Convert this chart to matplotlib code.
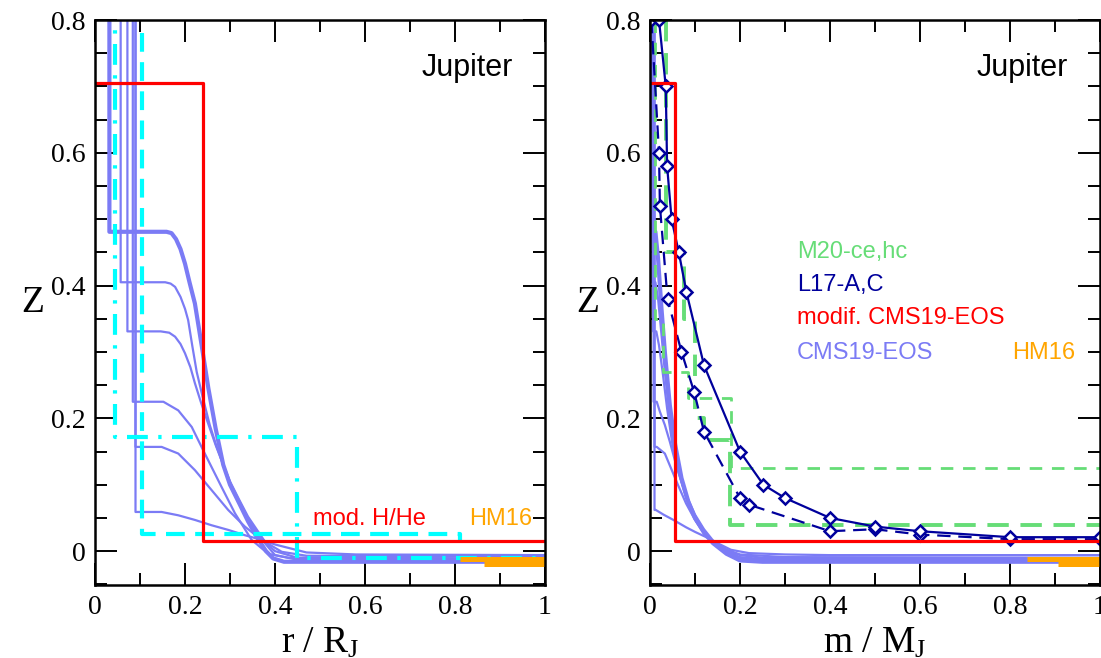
import numpy as np
import matplotlib.pyplot as plt
from matplotlib.ticker import MultipleLocator, FuncFormatter

plt.rcParams['font.family'] = 'Liberation Serif'
plt.rcParams['mathtext.fontset'] = 'custom'
plt.rcParams['mathtext.rm'] = 'Liberation Serif'
plt.rcParams['mathtext.it'] = 'Liberation Serif:italic'

# --- CMS19-EOS profiles, Z vs r/R_J
cms_r1 = [0.032, 0.032, 0.159, 0.17, 0.18, 0.19, 0.2, 0.21, 0.222, 0.237, 0.252, 0.268, 0.285,
          0.3, 0.322, 0.34, 0.359, 0.38, 0.396, 0.42, 1.0]
cms_z1 = [0.9, 0.481, 0.481, 0.479, 0.47, 0.455, 0.433, 0.405, 0.373, 0.31, 0.245, 0.185, 0.13,
          0.1, 0.07, 0.045, 0.022, 0.0, -0.011, -0.016, -0.016]
cms_r2 = [0.057, 0.057, 0.156, 0.168, 0.178, 0.19, 0.2, 0.207, 0.216, 0.226, 0.24, 0.255, 0.27,
          0.285, 0.3, 0.32, 0.34, 0.36, 0.38, 0.4, 0.45, 1.0]
cms_z2 = [0.9, 0.405, 0.405, 0.403, 0.398, 0.383, 0.365, 0.348, 0.31, 0.27, 0.23, 0.19, 0.158,
          0.13, 0.103, 0.075, 0.05, 0.028, 0.01, -0.006, -0.013, -0.014]
cms_r3 = [0.072, 0.072, 0.146, 0.165, 0.178, 0.19, 0.2, 0.212, 0.222, 0.235, 0.25, 0.268, 0.285,
          0.3, 0.32, 0.34, 0.36, 0.38, 0.4, 0.45, 1.0]
cms_z3 = [0.9, 0.331, 0.331, 0.329, 0.323, 0.312, 0.298, 0.277, 0.253, 0.225, 0.195, 0.16, 0.13,
          0.105, 0.078, 0.052, 0.032, 0.012, 0.0, -0.01, -0.012]
cms_r4 = [0.084, 0.084, 0.152, 0.185, 0.215, 0.244, 0.281, 0.311, 0.348, 0.385, 0.43, 1.0]
cms_z4 = [0.9, 0.225, 0.225, 0.212, 0.187, 0.147, 0.097, 0.057, 0.017, -0.004, -0.01, -0.011]
cms_r5 = [0.09, 0.09, 0.148, 0.185, 0.222, 0.259, 0.296, 0.333, 0.37, 0.415, 0.47, 1.0]
cms_z5 = [0.9, 0.157, 0.157, 0.147, 0.122, 0.092, 0.062, 0.037, 0.017, -0.001, -0.007, -0.008]
cms_r6 = [0.09, 0.09, 0.148, 0.185, 0.222, 0.259, 0.296, 0.333, 0.37, 0.40, 0.47, 0.58, 1.0]
cms_z6 = [0.9, 0.059, 0.059, 0.054, 0.047, 0.039, 0.032, 0.024, 0.017, 0.01, -0.002, -0.005, -0.006]

# --- CMS19-EOS profiles, Z vs m/M_J
cms_m1 = [0.003, 0.003, 0.012, 0.018, 0.025, 0.033, 0.044, 0.056, 0.07, 0.085, 0.1, 0.12, 0.14, 0.17, 0.2, 0.25, 1.0]
cms_zm1 = [0.9, 0.481, 0.481, 0.44, 0.37, 0.30, 0.22, 0.16, 0.11, 0.075, 0.05, 0.028, 0.012, -0.004, -0.014, -0.016, -0.016]
cms_m2 = [0.005, 0.005, 0.012, 0.018, 0.025, 0.033, 0.044, 0.056, 0.07, 0.085, 0.1, 0.12, 0.14, 0.17, 0.2, 0.25, 1.0]
cms_zm2 = [0.9, 0.405, 0.405, 0.38, 0.33, 0.27, 0.2, 0.15, 0.105, 0.072, 0.048, 0.027, 0.012, -0.003, -0.011, -0.014, -0.014]
cms_m3 = [0.007, 0.007, 0.014, 0.02, 0.028, 0.038, 0.05, 0.065, 0.08, 0.1, 0.12, 0.14, 0.17, 0.2, 0.25, 1.0]
cms_zm3 = [0.9, 0.331, 0.331, 0.31, 0.27, 0.215, 0.16, 0.115, 0.08, 0.05, 0.03, 0.014, 0.0, -0.009, -0.012, -0.012]
cms_m4 = [0.008, 0.008, 0.015, 0.022, 0.033, 0.044, 0.06, 0.08, 0.1, 0.12, 0.14, 0.17, 0.2, 0.25, 1.0]
cms_zm4 = [0.9, 0.225, 0.225, 0.21, 0.19, 0.165, 0.125, 0.085, 0.055, 0.033, 0.016, 0.002, -0.006, -0.01, -0.011]
cms_m5 = [0.01, 0.01, 0.015, 0.033, 0.062, 0.08, 0.1, 0.12, 0.144, 0.17, 0.2, 0.3, 1.0]
cms_zm5 = [0.9, 0.157, 0.157, 0.147, 0.1, 0.072, 0.047, 0.027, 0.012, 0.002, -0.005, -0.009, -0.01]
cms_m6 = [0.01, 0.01, 0.013, 0.03, 0.052, 0.08, 0.1, 0.122, 0.15, 0.18, 0.22, 0.3, 0.4, 1.0]
cms_zm6 = [0.9, 0.062, 0.062, 0.055, 0.047, 0.036, 0.029, 0.022, 0.012, 0.002, -0.003, -0.005, -0.006, -0.006]

# --- modified H/He EOS (step profile)
mod_r = [0.0, 0.24, 0.24, 1.0]
mod_z = [0.705, 0.705, 0.015, 0.015]
mod_m = [0.0, 0.056, 0.056, 1.0]

# --- other profiles in radius
cyan_dash_r = [0.104, 0.104, 0.811, 0.811]
cyan_dash_z = [0.78, 0.026, 0.026, 0.012]
cyan_dd_r = [0.044, 0.044, 0.448, 0.448, 1.0]
cyan_dd_z = [0.85, 0.172, 0.172, -0.01, -0.01]

# --- HM16 (outer envelope values)
hm_r1, hm_r2 = [0.811, 1.0], [0.864, 1.0]
hm_m1, hm_m2 = [0.837, 1.0], [0.907, 1.0]
hm_z1, hm_z2 = [-0.012, -0.012], [-0.02, -0.02]

# --- M20-ce,hc step profiles in mass
m20a_m = [0.012, 0.012, 0.03, 0.03, 0.085, 0.085, 0.18, 0.18, 1.0]
m20a_z = [0.8, 0.35, 0.35, 0.27, 0.27, 0.23, 0.23, 0.125, 0.125]
m20b_m = [0.035, 0.035, 0.075, 0.075, 0.1, 0.1, 0.12, 0.12, 0.178, 0.178, 1.0]
m20b_z = [0.8, 0.45, 0.45, 0.35, 0.35, 0.2, 0.2, 0.167, 0.167, 0.04, 0.04]

# --- L17 models A (solid) and C (dashed)
l17a_m = [0.02, 0.035, 0.038, 0.048, 0.064, 0.081, 0.12, 0.2, 0.252, 0.3, 0.4, 0.5, 0.6, 0.8, 1.0]
l17a_z = [0.8, 0.70, 0.58, 0.50, 0.45, 0.39, 0.28, 0.15, 0.10, 0.08, 0.05, 0.037, 0.03, 0.021, 0.021]
l17c_m = [0.003, 0.02, 0.022, 0.039, 0.07, 0.098, 0.12, 0.2, 0.22, 0.4, 0.5, 0.6, 0.8, 1.0]
l17c_z = [0.8, 0.6, 0.52, 0.38, 0.30, 0.24, 0.18, 0.08, 0.07, 0.03, 0.033, 0.025, 0.018, 0.018]

BLUE = '#7b7bf5'
NAVY = '#00009c'
GREEN = '#66dd77'
ORANGE = '#ffa500'

fig = plt.figure(figsize=(11.01, 6.58), dpi=100)
ax1 = fig.add_axes([95 / 1101, 73 / 658, 450 / 1101, 565 / 658])
ax2 = fig.add_axes([650 / 1101, 73 / 658, 450 / 1101, 565 / 658])


def style(ax, xlabel):
    ax.set_xlim(0, 1)
    ax.set_ylim(-0.051, 0.8)
    ax.xaxis.set_major_locator(MultipleLocator(0.2))
    ax.xaxis.set_minor_locator(MultipleLocator(0.1))
    ax.yaxis.set_major_locator(MultipleLocator(0.2))
    ax.yaxis.set_minor_locator(MultipleLocator(0.05))
    fmt = FuncFormatter(lambda v, p: '%g' % round(v, 2))
    ax.xaxis.set_major_formatter(fmt)
    ax.yaxis.set_major_formatter(fmt)
    ax.tick_params(which='both', direction='in', top=True, right=True, width=1.4,
                   labelsize=20, pad=7)
    ax.tick_params(which='major', length=16)
    ax.tick_params(which='minor', length=8.5)
    for s in ax.spines.values():
        s.set_linewidth(1.8)
    ax.set_xlabel(xlabel, fontsize=27)
    ax.xaxis.set_label_coords(0.5, -0.072)
    ax.set_ylabel('Z', fontsize=27, rotation=0, ha='center', va='center')
    ax.yaxis.set_label_coords(-0.138, 0.5)


sans = 'Liberation Sans'
curve = dict(color=BLUE, solid_joinstyle='round')

# left panel: radius
for r, z in [(cms_r2, cms_z2), (cms_r3, cms_z3), (cms_r4, cms_z4), (cms_r5, cms_z5), (cms_r6, cms_z6)]:
    ax1.plot(r, z, lw=1.6, **curve)
ax1.plot(cms_r1, cms_z1, lw=3, **curve)
ax1.plot(cyan_dash_r, cyan_dash_z, color='cyan', lw=3, ls=(0, (4.5, 2.5)))
ax1.plot(cyan_dd_r, cyan_dd_z, color='cyan', lw=3, ls=(0, (5, 2.5, 0.8, 2.5)))
ax1.plot(mod_r, mod_z, color='red', lw=2.3)
ax1.plot(hm_r1, hm_z1, color=ORANGE, lw=3.6, solid_capstyle='butt')
ax1.plot(hm_r2, hm_z2, color=ORANGE, lw=3.6, solid_capstyle='butt')
ax1.text(0.726, 0.715, 'Jupiter', fontsize=22, family=sans)
ax1.text(0.485, 0.039, 'mod. H/He', fontsize=17, family=sans, color='red')
ax1.text(0.832, 0.039, 'HM16', fontsize=17, family=sans, color=ORANGE)
style(ax1, r'r / R$_{\rm J}$')

# right panel: mass
for m, z in [(cms_m2, cms_zm2), (cms_m3, cms_zm3), (cms_m4, cms_zm4), (cms_m5, cms_zm5), (cms_m6, cms_zm6)]:
    ax2.plot(m, z, lw=1.6, **curve)
ax2.plot(cms_m1, cms_zm1, lw=3, **curve)
ax2.plot(m20a_m, m20a_z, color=GREEN, lw=2, ls=(0, (4.5, 3.5)))
ax2.plot(m20b_m, m20b_z, color=GREEN, lw=2.8, ls=(0, (5.5, 3)))
ax2.plot(l17c_m, l17c_z, color=NAVY, lw=1.6, ls=(0, (6, 3.5)), marker='D', ms=6,
         mfc='white', mec=NAVY, mew=1.8)
ax2.plot(l17a_m, l17a_z, color=NAVY, lw=1.6, marker='D', ms=6,
         mfc='white', mec=NAVY, mew=1.8)
ax2.plot(mod_m, mod_z, color='red', lw=2.3)
ax2.plot(hm_m1, hm_z1, color=ORANGE, lw=3.6, solid_capstyle='butt')
ax2.plot(hm_m2, hm_z2, color=ORANGE, lw=3.6, solid_capstyle='butt')
ax2.text(0.726, 0.715, 'Jupiter', fontsize=22, family=sans)
ax2.text(0.326, 0.442, 'M20-ce,hc', fontsize=17, family=sans, color=GREEN)
ax2.text(0.326, 0.392, 'L17-A,C', fontsize=17, family=sans, color=NAVY)
ax2.text(0.326, 0.342, 'modif. CMS19-EOS', fontsize=17, family=sans, color='red')
ax2.text(0.326, 0.290, 'CMS19-EOS', fontsize=17, family=sans, color=BLUE)
ax2.text(0.804, 0.290, 'HM16', fontsize=17, family=sans, color=ORANGE)
style(ax2, r'm / M$_{\rm J}$')

fig.savefig('out.png', dpi=100)
